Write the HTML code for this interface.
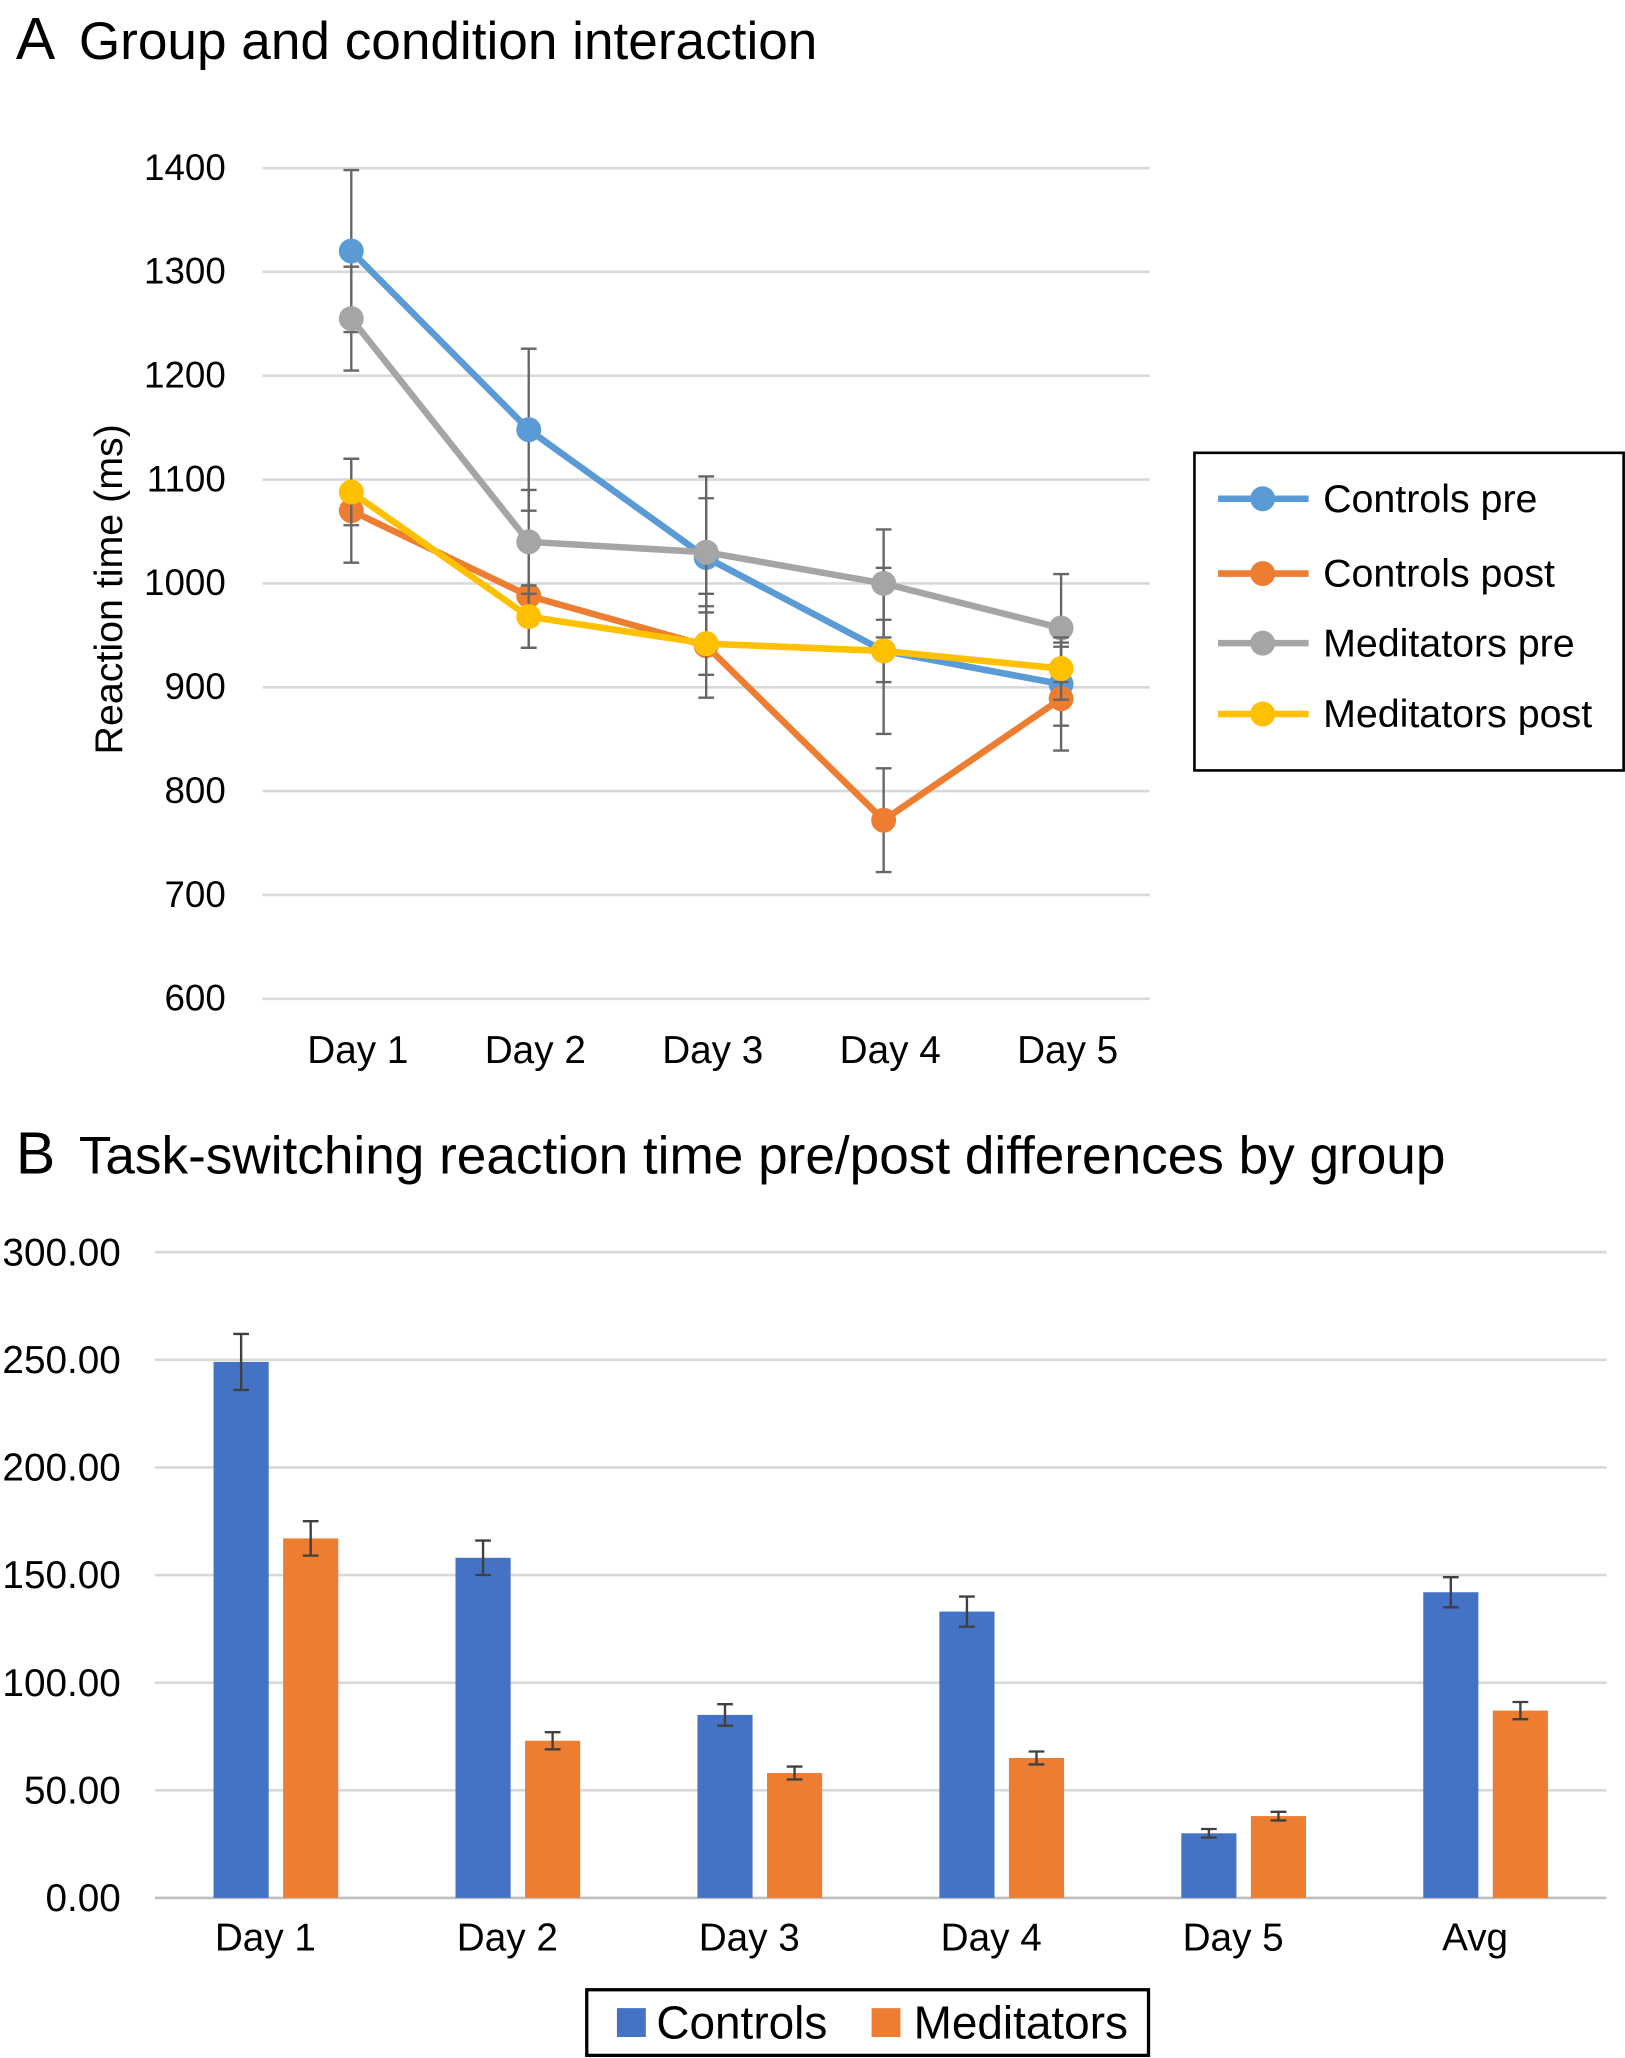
<!DOCTYPE html>
<html><head><meta charset="utf-8"><style>
html,body{margin:0;padding:0;background:#fff}
svg{display:block;font-family:"Liberation Sans",Arial,sans-serif}
</style></head><body>
<svg id="root" width="1625" height="2058" viewBox="0 0 1238 1568" xmlns="http://www.w3.org/2000/svg">
<g id="chartA"></g>
<g id="chartB"></g>
</svg>
<script>
// ---- Chart A data ----
const daysA = ["Day 1","Day 2","Day 3","Day 4","Day 5"];
const ticksA = [600,700,800,900,1000,1100,1200,1300,1400];
const controlsPre = [1320,1148,1025,935,903];
const controlsPreErr = [78,78,78,80,40];
const controlsPost = [1070,988,940,772,889];
const controlsPostErr = [50,50,50,50,50];
const meditatorsPre = [1255,1040,1030,1000,957];
const meditatorsPreErr = [50,50,52,52,52];
const meditatorsPost = [1088,968,942,935,918];
const meditatorsPostErr = [32,30,30,30,30];
const seriesNamesA = ["Controls pre","Controls post","Meditators pre","Meditators post"];
// ---- Chart B data ----
const catsB = ["Day 1","Day 2","Day 3","Day 4","Day 5","Avg"];
const ticksB = [0,50,100,150,200,250,300];
const tickLabelsB = ["0.00","50.00","100.00","150.00","200.00","250.00","300.00"];
const controlsB = [249,158,85,133,30,142];
const controlsBErr = [13,8,5,7,2,7];
const meditatorsB = [167,73,58,65,38,87];
const meditatorsBErr = [8,4,3,3,2,4];

const NS="http://www.w3.org/2000/svg";
function mk(parent,tag,attrs,text){const e=document.createElementNS(NS,tag);for(const k in attrs)e.setAttribute(k,attrs[k]);if(text!==undefined)e.textContent=text;parent.appendChild(e);return e;}

// ---- Chart A ----
const A=document.getElementById('chartA');
const ax0=200,ax1=876,ay0=761,ay1=128;
const yA=v=>ay0-(v-600)/(1400-600)*(ay0-ay1);
const bwA=(ax1-ax0)/daysA.length;
const xA=i=>ax0+bwA*(i+0.5);
let t=mk(A,'text',{x:12,y:45,'font-size':45,fill:'#000'},'A');


t=mk(A,'text',{x:60,y:45,'font-size':40.5,fill:'#000'},'Group and condition interaction');


ticksA.forEach(v=>{
  const l=mk(A,'line',{x1:ax0,x2:ax1,y1:yA(v),y2:yA(v),stroke:'#d9d9d9','stroke-width':2});
  
  
  const tx=mk(A,'text',{x:172,y:yA(v)+9,'font-size':28,'text-anchor':'end',fill:'#000'},String(v));
  
  
});
daysA.forEach((d,i)=>{
  const tx=mk(A,'text',{x:xA(i)+5,y:810,'font-size':29.5,'text-anchor':'middle',fill:'#000'},d);
  
  
});
t=mk(A,'text',{x:0,y:0,'font-size':30,'text-anchor':'middle',fill:'#000',transform:'translate(93,449) rotate(-90)'},'Reaction time (ms)');


const sA=[[controlsPre,controlsPreErr,'#5B9BD5'],[controlsPost,controlsPostErr,'#ED7D31'],[meditatorsPre,meditatorsPreErr,'#A5A5A5'],[meditatorsPost,meditatorsPostErr,'#FFC000']];
sA.forEach(([vals,errs,c],si)=>{
  const g=mk(A,'g',{});
  
  
  vals.forEach((v,i)=>{
    const x=xA(i);
    const eb=mk(g,'path',{d:`M${x},${yA(v+errs[i])}V${yA(v-errs[i])}M${x-6},${yA(v+errs[i])}H${x+6}M${x-6},${yA(v-errs[i])}H${x+6}`,stroke:'#666','stroke-width':1.8,fill:'none'});
    
    
  });
  const p=mk(g,'polyline',{points:vals.map((v,i)=>xA(i)+','+yA(v)).join(' '),fill:'none',stroke:c,'stroke-width':5});
  
  
  vals.forEach((v,i)=>{
    const m=mk(g,'circle',{cx:xA(i),cy:yA(v),r:9.5,fill:c});
    
    
  });
});
const lg=mk(A,'g',{});


mk(lg,'rect',{x:910,y:345,width:327,height:242,fill:'#fff',stroke:'#000','stroke-width':2});
const lgY=[380,437,490,544];
seriesNamesA.forEach((n,i)=>{
  const e=mk(lg,'g',{});
  
  
  mk(e,'line',{x1:928,x2:997,y1:lgY[i],y2:lgY[i],stroke:sA[i][2],'stroke-width':5});
  mk(e,'circle',{cx:962,cy:lgY[i],r:9.5,fill:sA[i][2]});
  mk(e,'text',{x:1008,y:lgY[i]+10,'font-size':30,fill:'#000'},n);
});

// ---- Chart B ----
const B=document.getElementById('chartB');
const bx0=118,bx1=1224,by0=1446,by1=954;
const yB=v=>by0-v/300*(by0-by1);
const bwB=(bx1-bx0)/catsB.length;
const cB=i=>bx0+bwB*(i+0.5);
t=mk(B,'text',{x:12,y:894,'font-size':45,fill:'#000'},'B');


t=mk(B,'text',{x:60,y:894,'font-size':40.5,fill:'#000'},'Task-switching reaction time pre/post differences by group');


ticksB.forEach((v,i)=>{
  const l=mk(B,'line',{x1:bx0,x2:bx1,y1:yB(v),y2:yB(v),stroke:v===0?'#bfbfbf':'#d9d9d9','stroke-width':2});
  
  
  const tx=mk(B,'text',{x:92,y:yB(v)+10,'font-size':29.5,'text-anchor':'end',fill:'#000'},tickLabelsB[i]);
  
  
});
catsB.forEach((d,i)=>{
  const tx=mk(B,'text',{x:cB(i)-8,y:1486,'font-size':29.5,'text-anchor':'middle',fill:'#000'},d);
  
  
});
const barW=42,gap=11;
[[controlsB,controlsBErr,'#4472C4',-1],[meditatorsB,meditatorsBErr,'#ED7D31',1]].forEach(([vals,errs,c,side])=>{
  vals.forEach((v,i)=>{
    const x=side<0?cB(i)-gap/2-barW:cB(i)+gap/2;
    const r=mk(B,'rect',{x:x,y:yB(v),width:barW,height:yB(0)-yB(v),fill:c});
    
    
    const xm=x+barW/2;
    const eb=mk(B,'path',{d:`M${xm},${yB(v+errs[i])}V${yB(v-errs[i])}M${xm-6},${yB(v+errs[i])}H${xm+6}M${xm-6},${yB(v-errs[i])}H${xm+6}`,stroke:'#404040','stroke-width':1.8,fill:'none'});
    
    
  });
});
const lb=mk(B,'g',{});


mk(lb,'rect',{x:447,y:1516,width:428,height:50,fill:'#fff',stroke:'#000','stroke-width':2.5});
const e1=mk(lb,'g',{});


mk(e1,'rect',{x:470,y:1530,width:22,height:22,fill:'#4472C4'});
mk(e1,'text',{x:500,y:1553,'font-size':35,fill:'#000'},'Controls');
const e2=mk(lb,'g',{});


mk(e2,'rect',{x:664,y:1530,width:22,height:22,fill:'#ED7D31'});
mk(e2,'text',{x:696,y:1553,'font-size':35,fill:'#000'},'Meditators');
</script>
</body></html>
